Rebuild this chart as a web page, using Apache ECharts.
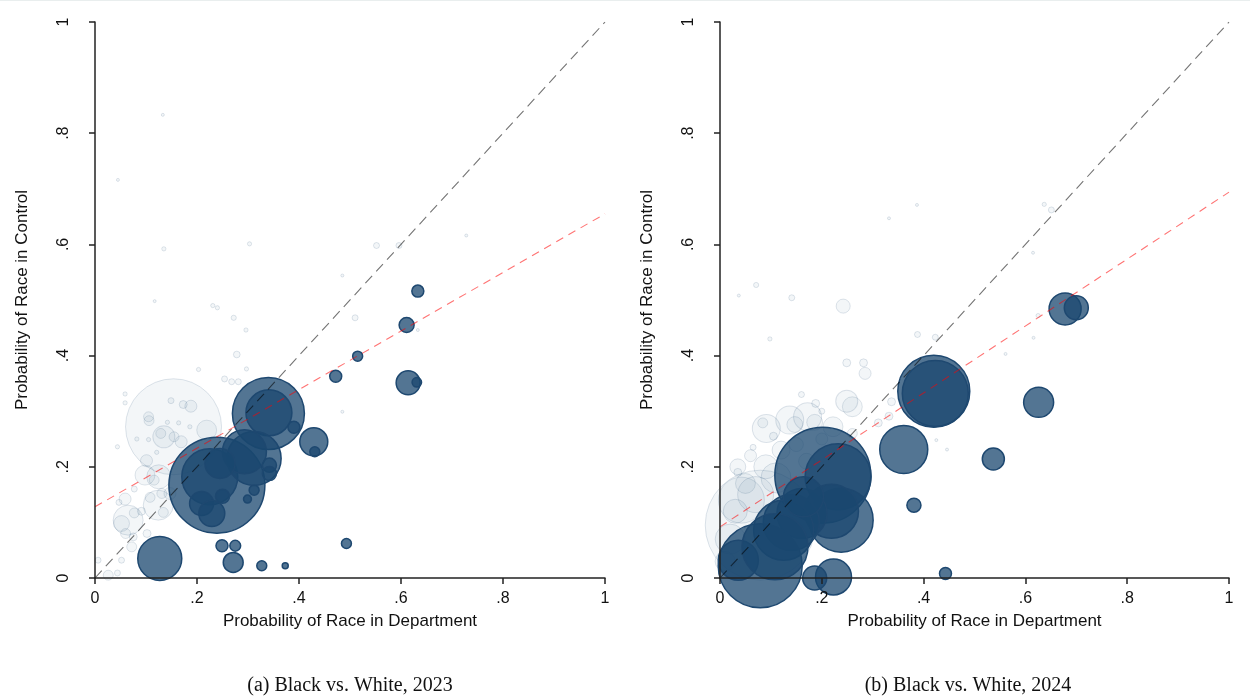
<!DOCTYPE html>
<html>
<head>
<meta charset="utf-8">
<script src="https://cdn.jsdelivr.net/npm/echarts@6/dist/echarts.min.js"></script>
<style>
html,body{margin:0;padding:0;background:#fff;}
#chart{width:1250px;height:696px;}
</style>
</head>
<body>
<div id="chart"></div>
<script>
// ---------- DATA ----------
// Each point: [probability in department, probability in control, department weight]
const ticks = [0, 0.2, 0.4, 0.6, 0.8, 1];
const captions = ['(a) Black vs. White, 2023', '(b) Black vs. White, 2024'];
const xName = 'Probability of Race in Department';
const yName = 'Probability of Race in Control';

// 2023 – not significant (faded)
const light2023 = [
  [0.154,0.272,1024],[0.133,0.833,1],[0.045,0.716,1],[0.135,0.592,2],[0.303,0.601,2],
  [0.117,0.498,1],[0.231,0.490,2],[0.240,0.486,2],[0.272,0.468,3],[0.552,0.598,4],
  [0.596,0.598,4],[0.728,0.616,1],[0.485,0.544,1],[0.510,0.468,4],[0.633,0.446,1],
  [0.485,0.299,1],[0.296,0.446,2],[0.278,0.402,5],[0.203,0.375,2],[0.254,0.358,4],
  [0.268,0.353,4],[0.281,0.353,4],[0.297,0.376,2],[0.059,0.331,2],[0.059,0.315,2],
  [0.149,0.319,4],[0.173,0.312,7],[0.188,0.309,16],[0.105,0.290,11],[0.106,0.283,11],
  [0.142,0.280,2],[0.164,0.279,2],[0.186,0.272,2],[0.219,0.266,44],[0.135,0.254,54],
  [0.129,0.260,11],[0.155,0.254,11],[0.169,0.245,16],[0.082,0.250,2],[0.105,0.249,2],
  [0.044,0.236,2],[0.121,0.226,2],[0.101,0.211,16],[0.098,0.185,44],[0.125,0.182,64],
  [0.116,0.176,11],[0.131,0.152,11],[0.124,0.131,100],[0.108,0.145,11],[0.147,0.152,16],
  [0.134,0.118,11],[0.077,0.160,4],[0.059,0.142,16],[0.047,0.136,4],[0.065,0.104,100],
  [0.052,0.098,28],[0.077,0.117,11],[0.091,0.120,7],[0.060,0.080,11],[0.075,0.074,7],
  [0.072,0.056,11],[0.102,0.080,7],[0.052,0.032,4],[0.026,0.005,11],[0.044,0.009,4],
  [0.006,0.032,4]
];
// 2023 – significant (dark)
const dark2023 = [
  [0.239,0.167,1024],[0.225,0.182,348],[0.340,0.296,576],[0.341,0.297,235],[0.312,0.215,324],
  [0.293,0.227,215],[0.245,0.206,100],[0.209,0.134,64],[0.229,0.116,75],[0.250,0.147,22],
  [0.312,0.158,11],[0.299,0.142,7],[0.342,0.203,22],[0.342,0.188,22],[0.390,0.271,16],
  [0.429,0.245,87],[0.431,0.227,11],[0.472,0.363,16],[0.127,0.035,215],[0.249,0.058,16],
  [0.275,0.058,13],[0.271,0.028,44],[0.327,0.022,11],[0.373,0.022,4],[0.633,0.516,16],
  [0.611,0.455,25],[0.515,0.399,11],[0.614,0.351,64],[0.631,0.352,10],[0.493,0.062,11]
];
// 2024 – not significant (faded)
const light2024 = [
  [0.079,0.095,1344],[0.071,0.527,3],[0.037,0.508,1],[0.141,0.504,4],[0.242,0.489,22],
  [0.098,0.430,2],[0.249,0.387,7],[0.282,0.387,7],[0.285,0.368,16],[0.249,0.318,54],
  [0.260,0.308,44],[0.188,0.314,7],[0.172,0.290,87],[0.137,0.284,87],[0.091,0.269,87],
  [0.084,0.279,11],[0.186,0.280,28],[0.222,0.272,44],[0.147,0.276,28],[0.337,0.317,7],
  [0.332,0.291,7],[0.311,0.279,7],[0.387,0.671,1],[0.332,0.647,1],[0.637,0.672,2],
  [0.651,0.662,4],[0.615,0.585,1],[0.388,0.438,4],[0.423,0.433,4],[0.625,0.472,2],
  [0.616,0.432,1],[0.561,0.403,1],[0.425,0.248,1],[0.446,0.231,1],[0.035,0.200,28],
  [0.042,0.140,235],[0.060,0.220,16],[0.050,0.170,44],[0.090,0.200,64],[0.120,0.230,36],
  [0.150,0.240,22],[0.110,0.180,100],[0.070,0.150,144],[0.030,0.120,64],[0.020,0.070,100],
  [0.010,0.030,44],[0.170,0.210,28],[0.200,0.250,16],[0.260,0.260,11],[0.105,0.255,7],
  [0.065,0.235,4],[0.035,0.190,7],[0.200,0.300,4],[0.160,0.330,4]
];
// 2024 – significant (dark)
const dark2024 = [
  [0.420,0.336,576],[0.423,0.332,484],[0.361,0.231,256],[0.381,0.131,22],[0.443,0.008,16],
  [0.678,0.484,114],[0.700,0.486,64],[0.626,0.316,100],[0.537,0.214,54],[0.202,0.185,1024],
  [0.232,0.182,484],[0.238,0.104,455],[0.219,0.120,324],[0.161,0.116,278],[0.140,0.100,348],
  [0.125,0.086,400],[0.164,0.146,178],[0.079,0.022,784],[0.036,0.032,178],[0.108,0.056,484],
  [0.223,0.002,144],[0.186,0.000,64]
];
// Fitted line (y at x=0, y at x=1) and 45-degree line
const fit2023 = [[0, 0.128], [1, 0.655]];
const fit2024 = [[0, 0.092], [1, 0.694]];
const diag = [[0, 0], [1, 1]];

// ---------- CHART ----------
const chart = echarts.init(document.getElementById('chart'), null, {renderer: 'canvas'});
const sizeFn = d => 3 * Math.sqrt(d[2]);
const fmt = v => (v === 0 ? '0' : v === 1 ? '1' : v.toFixed(1).replace(/^0/, ''));
const SANS = '"Liberation Sans", Arial, sans-serif';

function xAx(gi) {
  return {
    gridIndex: gi, type: 'value', min: 0, max: 1, interval: 0.2, z: 10,
    name: xName, nameLocation: 'middle', nameGap: 35,
    nameTextStyle: {fontFamily: SANS, fontSize: 17, color: '#111'},
    axisLine: {show: true, lineStyle: {color: '#222', width: 1.5}},
    axisTick: {show: true, inside: false, length: 6, lineStyle: {color: '#222', width: 1.5}},
    axisLabel: {formatter: fmt, margin: 13, fontFamily: SANS, fontSize: 16, color: '#111'},
    splitLine: {show: false}
  };
}
function yAx(gi) {
  return {
    gridIndex: gi, type: 'value', min: 0, max: 1, interval: 0.2, z: 10,
    name: yName, nameLocation: 'middle', nameGap: 64, nameRotate: 90,
    nameTextStyle: {fontFamily: SANS, fontSize: 17, color: '#111'},
    axisLine: {show: true, lineStyle: {color: '#222', width: 1.5}},
    axisTick: {show: true, inside: false, length: 6, lineStyle: {color: '#222', width: 1.5}},
    axisLabel: {formatter: fmt, rotate: 90, margin: 23, fontFamily: SANS, fontSize: 16, color: '#111'},
    splitLine: {show: false}
  };
}
function lightSeries(gi, data) {
  return {
    type: 'scatter', xAxisIndex: gi, yAxisIndex: gi, data: data, symbolSize: sizeFn, clip: false, z: 2,
    itemStyle: {color: 'rgba(26,71,111,0.05)', borderColor: 'rgba(26,71,111,0.14)', borderWidth: 1, opacity: 1},
    emphasis: {disabled: true}, silent: true
  };
}
function darkSeries(gi, data) {
  return {
    type: 'scatter', xAxisIndex: gi, yAxisIndex: gi, data: data, symbolSize: sizeFn, clip: false, z: 3,
    itemStyle: {color: 'rgba(26,71,111,0.75)', borderColor: 'rgb(30,72,112)', borderWidth: 1.5, opacity: 1},
    emphasis: {disabled: true}, silent: true
  };
}
function lineSeries(gi, data, color, dash) {
  return {
    type: 'line', xAxisIndex: gi, yAxisIndex: gi, data: data, symbol: 'none', z: 4, silent: true,
    lineStyle: {color: color, width: 1.1, type: dash}
  };
}

const option = {
  animation: false,
  backgroundColor: '#ffffff',
  grid: [
    {left: 95, top: 22, width: 510, height: 556},
    {left: 720, top: 22, width: 509, height: 556}
  ],
  xAxis: [xAx(0), xAx(1)],
  yAxis: [yAx(0), yAx(1)],
  series: [
    lightSeries(0, light2023), darkSeries(0, dark2023),
    lineSeries(0, diag, 'rgba(0,0,0,0.55)', [10, 6]),
    lineSeries(0, fit2023, 'rgba(255,0,0,0.55)', [8, 6]),
    lightSeries(1, light2024), darkSeries(1, dark2024),
    lineSeries(1, diag, 'rgba(0,0,0,0.55)', [10, 6]),
    lineSeries(1, fit2024, 'rgba(255,0,0,0.55)', [8, 6])
  ],
  graphic: [
    {type: 'rect', left: 0, top: 0, shape: {width: 1250, height: 1}, style: {fill: '#e9eeee'}, silent: true},
    {type: 'text', x: 350, y: 686, style: {text: captions[0], font: '20px "Liberation Serif", serif', fill: '#111', textAlign: 'center', textVerticalAlign: 'middle'}},
    {type: 'text', x: 968, y: 686, style: {text: captions[1], font: '20px "Liberation Serif", serif', fill: '#111', textAlign: 'center', textVerticalAlign: 'middle'}}
  ]
};
chart.setOption(option);
</script>
</body>
</html>
